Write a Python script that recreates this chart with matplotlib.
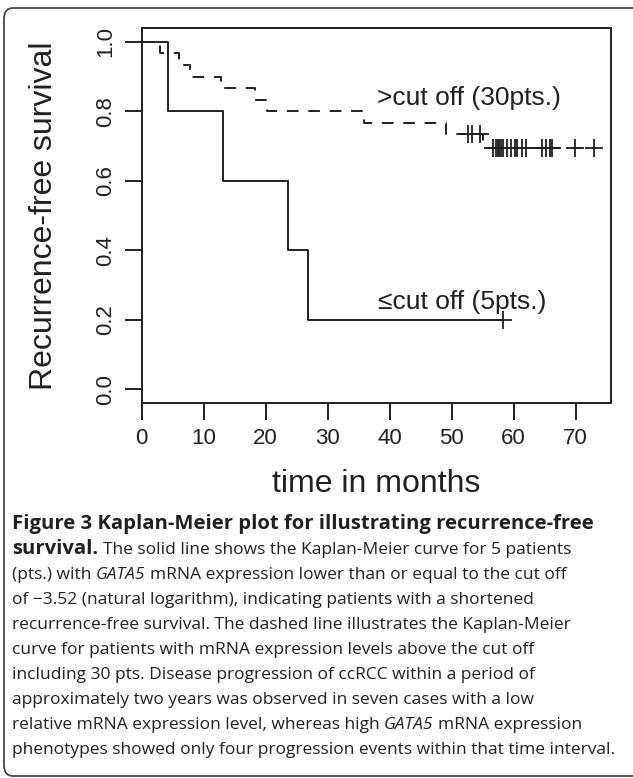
import matplotlib
matplotlib.use("Agg")
import matplotlib.pyplot as plt
from matplotlib.patches import FancyBboxPatch

# survival data (months)
low_events = [4.2, 13.1, 23.7, 26.9]
low_censored = [58.3]
high_events = [3.0, 6.1, 7.8, 12.8, 18.3, 20.2, 35.8, 49.1, 55.1]
high_censored = [52.7, 53.3, 54.6, 56.6, 57.1, 57.4, 57.7, 58.0, 58.3, 58.9,
                 59.5, 60.2, 60.6, 61.3, 62.0, 64.5, 65.3, 65.8, 66.2, 69.9, 72.9]

x_ticks = [0, 10, 20, 30, 40, 50, 60, 70]
y_ticks = [0.0, 0.2, 0.4, 0.6, 0.8, 1.0]
y_tick_labels = ["0.0", "0.2", "0.4", "0.6", "0.8", "1.0"]

high_label = ">cut off (30pts.)"
low_label = "\u2264cut off (5pts.)"

# caption: list of lines, each a list of (text, weight, style)
caption = [
    [("Figure 3 Kaplan-Meier plot for illustrating recurrence-free", "bold", "normal")],
    [("survival.", "bold", "normal"),
     ("The solid line shows the Kaplan-Meier curve for 5 patients", "normal", "normal")],
    [("(pts.) with", "normal", "normal"), ("GATA5", "normal", "italic"),
     ("mRNA expression lower than or equal to the cut off", "normal", "normal")],
    [("of \u22123.52 (natural logarithm), indicating patients with a shortened", "normal", "normal")],
    [("recurrence-free survival. The dashed line illustrates the Kaplan-Meier", "normal", "normal")],
    [("curve for patients with mRNA expression levels above the cut off", "normal", "normal")],
    [("including 30 pts. Disease progression of ccRCC within a period of", "normal", "normal")],
    [("approximately two years was observed in seven cases with a low", "normal", "normal")],
    [("relative mRNA expression level, whereas high", "normal", "normal"),
     ("GATA5", "normal", "italic"), ("mRNA expression", "normal", "normal")],
    [("phenotypes showed only four progression events within that time interval.", "normal", "normal")],
]

INK = "#231f20"
W, H = 633, 778


def kaplan_meier(events, censored):
    times = sorted([(t, 1) for t in events] + [(t, 0) for t in censored])
    n = len(times)
    s = 1.0
    xs, ys, cx, cy = [0.0], [1.0], [], []
    for t, e in times:
        if e:
            s *= (n - 1) / n
            xs.append(t)
            ys.append(s)
        else:
            cx.append(t)
            cy.append(s)
        n -= 1
    xs.append(times[-1][0])
    ys.append(s)
    return xs, ys, cx, cy


fig = plt.figure(figsize=(W / 100, H / 100), dpi=100)
plt.rcParams["font.family"] = ["Liberation Sans", "DejaVu Sans"]

# axes box in pixels: left 141.5, right 611, top 28, bottom 403
ax = fig.add_axes([141.5 / W, 1 - 403 / H, (611 - 141.5) / W, (403 - 28) / H])
ax.set_xlim(0, 75.7)
ax.set_ylim(-0.04, 1.04)

xs, ys, cx, cy = kaplan_meier(low_events, low_censored)
ax.step(xs, ys, where="post", color=INK, lw=1.4)
ax.plot(cx, cy, "+", color=INK, ms=13, mew=1.3)

xs, ys, cx, cy = kaplan_meier(high_events, high_censored)
ax.step(xs, ys, where="post", color=INK, lw=1.4, linestyle=(0, (6, 5)))
ax.plot(cx, cy, "+", color=INK, ms=13, mew=1.3)

ax.text(37.9, 0.839, high_label, fontsize=19, color=INK, ha="left", va="center")
ax.text(38.1, 0.252, low_label, fontsize=19, color=INK, ha="left", va="center")

ax.set_xticks(x_ticks)
ax.set_yticks(y_ticks)
ax.set_yticklabels(y_tick_labels)
ax.tick_params(length=12, width=1.4, color=INK, labelcolor=INK, labelsize=16, pad=6)
ax.tick_params(axis="y", labelrotation=90)
for lab in ax.get_yticklabels():
    lab.set_va("center")
for sp in ax.spines.values():
    sp.set_linewidth(1.4)
    sp.set_color(INK)

ax.set_xlabel("time in months", fontsize=23, color=INK)
ax.xaxis.set_label_coords(0.5, (403 - 484) / 375)
ax.xaxis.label.set_va("center")
ax.set_ylabel("Recurrence-free survival", fontsize=23, color=INK)
ax.yaxis.set_label_coords((44 - 141.5) / 469.5, 0.5)
ax.yaxis.label.set_va("center")

# rounded frame, cut off at the right edge of the page
frame = FancyBboxPatch((4 / W, 2 / H), 1.2, 1 - 10 / H,
                       boxstyle="round,pad=0,rounding_size=0.014",
                       transform=fig.transFigure, fill=False,
                       edgecolor="#3a3a3a", lw=1.2, clip_on=False)
fig.patches.append(frame)

# caption, drawn segment by segment
renderer = fig.canvas.get_renderer()
cap_font = "Open Sans"
cap_size = 12.5
bold_size = 14.6


def width_px(s):
    t = fig.text(0, 0, s, fontsize=cap_size, family=cap_font)
    w = t.get_window_extent(renderer).width
    t.remove()
    return w


space = width_px("x x") - width_px("xx")
base_y = 529
for i, line in enumerate(caption):
    x = 12
    y = base_y + i * 25
    for txt, weight, style in line:
        size = bold_size if weight == "bold" else cap_size
        t = fig.text(x / W, 1 - y / H, txt, fontsize=size, family=cap_font,
                     fontweight=weight, fontstyle=style, color=INK, va="baseline")
        x += t.get_window_extent(renderer).width + space

fig.savefig("out.png", dpi=100)
